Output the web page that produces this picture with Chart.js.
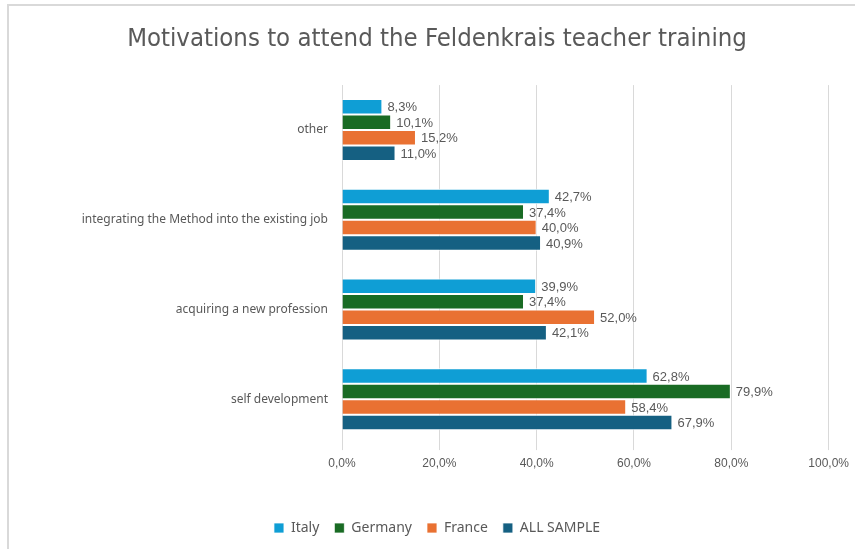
<!DOCTYPE html>
<html>
<head>
<meta charset="utf-8">
<script src="https://cdn.jsdelivr.net/npm/chart.js@4.4.1/dist/chart.umd.min.js"></script>
<style>
  html, body { margin: 0; padding: 0; background: #fff; }
  #frame {
    position: absolute; left: 7px; top: 4px; width: 848px; height: 545px;
    border-left: 2px solid #d9d9d9; border-top: 2px solid #d9d9d9;
  }
  #wrap { position: absolute; left: 9px; top: 6px; width: 846px; height: 543px; }
</style>
</head>
<body>
<div id="frame"></div>
<div id="wrap"><canvas id="chart"></canvas></div>
<script>
// categories, top to bottom
const categories = [
  "other",
  "integrating the Method into the existing job",
  "acquiring a new profession",
  "self development",
];
// series names
const seriesNames = ["Italy", "Germany", "France", "ALL SAMPLE"];
// series values (%)
const italy = [8.3, 42.7, 39.9, 62.8];
const germany = [10.1, 37.4, 37.4, 79.9];
const france = [15.2, 40.0, 52.0, 58.4];
const allSample = [11.0, 40.9, 42.1, 67.9];
// x tick values
const xTicks = [0, 20, 40, 60, 80, 100];

const seriesColors = ["#0F9ED5", "#196B24", "#E97132", "#156082"];
const textColor = "#595959";

// percent with comma decimal
const fmt = (v) => v.toFixed(1).replace(".", ",") + "%";

// value labels at bar ends
const barLabels = {
  id: "barLabels",
  afterDatasetsDraw(chart) {
    const ctx = chart.ctx;
    ctx.save();
    ctx.font = "13px 'Liberation Sans', Arial, sans-serif";
    ctx.fillStyle = textColor;
    ctx.textAlign = "left";
    ctx.textBaseline = "middle";
    chart.data.datasets.forEach((ds, i) => {
      chart.getDatasetMeta(i).data.forEach((bar, j) => {
        ctx.fillText(fmt(ds.data[j]), bar.x + 5, bar.y + 1);
      });
    });
    ctx.restore();
  },
};

const values = [italy, germany, france, allSample];

new Chart(document.getElementById("chart"), {
  type: "bar",
  data: {
    labels: categories,
    datasets: values.map((v, i) => ({
      label: seriesNames[i],
      data: v,
      backgroundColor: seriesColors[i],
      borderColor: "#ffffff",
      borderWidth: { top: 1, bottom: 1, right: 1, left: 0 },
      categoryPercentage: 0.69,
      barPercentage: 1.0,
    })),
  },
  options: {
    indexAxis: "y",
    responsive: true,
    maintainAspectRatio: false,
    animation: false,
    layout: { padding: { left: 36, right: 26, top: 0, bottom: 4 } },
    scales: {
      x: {
        min: 0,
        max: 100,
        afterBuildTicks: (axis) => { axis.ticks = xTicks.map((v) => ({ value: v })); },
        afterFit: (axis) => { axis.height += 29.5; },
        grid: { color: "#d9d9d9", lineWidth: 1, drawTicks: true, tickLength: 6, tickColor: "#d9d9d9" },
        border: { display: false },
        ticks: {
          color: textColor,
          font: { family: "'Liberation Sans', Arial, sans-serif", size: 12 },
          padding: 6,
          callback: (v) => fmt(v),
        },
      },
      y: {
        afterFit: (axis) => { axis.width = 297; },
        grid: { display: false, drawTicks: false },
        border: { display: true, color: "#d9d9d9" },
        ticks: {
          color: textColor,
          font: { family: "'Noto Sans', sans-serif", size: 12 },
          padding: 14,
        },
      },
    },
    plugins: {
      title: {
        display: true,
        text: "Motivations to attend the Feldenkrais teacher training",
        color: textColor,
        font: { family: "'Liberation Sans Narrow', 'DejaVu Sans Condensed', sans-serif", size: 25.5, weight: "normal" },
        padding: { top: 18, bottom: 30.5 },
      },
      legend: {
        position: "bottom",
        labels: {
          color: textColor,
          font: { family: "'Noto Sans', sans-serif", size: 14 },
          boxWidth: 10,
          boxHeight: 10,
          padding: 15,
        },
      },
      tooltip: { enabled: false },
    },
  },
  plugins: [barLabels],
});
</script>
</body>
</html>
